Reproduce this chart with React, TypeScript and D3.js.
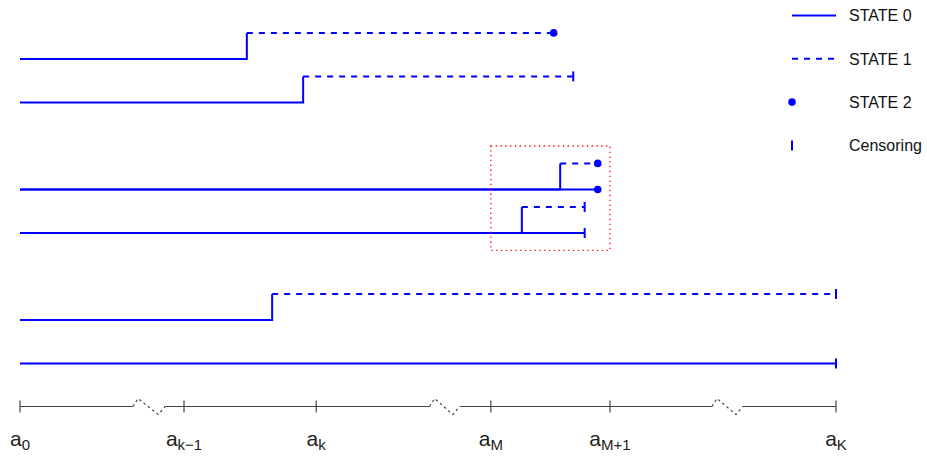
import React from "react";
import * as d3 from "d3";

// subjects (row position on the y scale, top to bottom)
const rows = [8, 7, 5, 4, 2, 1];
// time of 0 -> 1 transition (NaN = none)
const t01 = [27.8, 34.7, 66.2, 61.5, 30.9, NaN];
// end of follow-up
const tEnd = [65.4, 67.8, 70.8, 69.2, 100, 100];
// how follow-up ends: "death" = STATE 2, "censor"
const endMark = ["death", "censor", "death", "censor", "censor", "censor"];
// state 0 path also drawn to the end (alternative path)
const stay0 = [false, false, true, true, false, true];

// time axis
const tickVals = [0, 20.1, 36.3, 57.7, 72.3, 100];
const tickSubs = ["0", "k\u22121", "k", "M", "M+1", "K"];
const breaks = [
  [13.85, 17.8],
  [50.2, 53.9],
  [84.8, 88.6],
];
// zoom box (from a_M to a_M+1)
const boxRows = [3.6, 6];

const legendLabels = ["STATE 0", "STATE 1", "STATE 2", "Censoring"];

const W = 927;
const H = 456;
const blue = "#0000FF";
const grey = "#444";

export default function App() {
  const x = d3.scaleLinear().domain([0, 100]).range([20, 836]);
  const y = d3.scaleLinear().domain([1, 8]).range([363.5, 59]);
  const up = 0.6; // offset of state 1 level
  const axisY = 406.5;

  const line = d3.line<[number, number]>().x((d) => x(d[0])).y((d) => y(d[1]));

  const mark = (kind: string, cx: number, cy: number, key: string) =>
    kind === "death" ? (
      <circle key={key} cx={cx} cy={cy} r={3.8} fill={blue} />
    ) : (
      <line key={key} x1={cx} x2={cx} y1={cy - 5} y2={cy + 5} stroke={blue} strokeWidth={2} />
    );

  const segs: React.ReactNode[] = [];
  rows.forEach((r, i) => {
    const hasJump = !isNaN(t01[i]);
    if (!hasJump || stay0[i]) {
      segs.push(
        <path key={"s0" + i} d={line([[0, r], [tEnd[i], r]])!} stroke={blue} strokeWidth={2} fill="none" />
      );
      segs.push(mark(endMark[i], x(tEnd[i]), y(r), "m0" + i));
    }
    if (hasJump) {
      segs.push(
        <path
          key={"s01" + i}
          d={line([[0, r], [t01[i], r], [t01[i], r + up]])!}
          stroke={blue}
          strokeWidth={2}
          fill="none"
        />
      );
      segs.push(
        <path
          key={"s1" + i}
          d={line([[t01[i], r + up], [tEnd[i], r + up]])!}
          stroke={blue}
          strokeWidth={2}
          strokeDasharray="6,6"
          fill="none"
        />
      );
      segs.push(mark(endMark[i], x(tEnd[i]), y(r + up), "m1" + i));
    }
  });

  // axis pieces between breaks
  const edges = [0, ...breaks.flat(), 100];
  const axisPieces: [number, number][] = [];
  for (let k = 0; k < edges.length; k += 2) axisPieces.push([edges[k], edges[k + 1]]);

  const legendY = (k: number) => 15.5 + k * 43.3;

  return (
    <svg
      width={W}
      height={H}
      style={{ position: "absolute", left: 0, top: 0, background: "white" }}
      fontFamily="'Liberation Sans', Arial, sans-serif"
    >
      {segs}

      <rect
        x={x(tickVals[3])}
        y={y(boxRows[1])}
        width={x(tickVals[4]) - x(tickVals[3])}
        height={y(boxRows[0]) - y(boxRows[1])}
        fill="none"
        stroke="#FF0000"
        strokeWidth={1.3}
        strokeDasharray="1.3,3.5"
      />

      {/* time axis */}
      {axisPieces.map((p, k) => (
        <line key={"ax" + k} x1={x(p[0])} x2={x(p[1])} y1={axisY} y2={axisY} stroke={grey} strokeWidth={1.2} />
      ))}
      {breaks.map((b, k) => {
        const x0 = x(b[0]);
        const x1 = x(b[1]);
        return (
          <path
            key={"br" + k}
            d={`M${x0},${axisY}L${x0 + 5},${axisY - 8}L${x1 - 7},${axisY + 8}L${x1},${axisY}`}
            stroke={grey}
            strokeWidth={1.2}
            strokeDasharray="2.5,3"
            fill="none"
          />
        );
      })}
      {tickVals.map((t, k) => (
        <g key={"t" + k} transform={`translate(${x(t)},0)`}>
          <line y1={axisY - 6} y2={axisY + 6} stroke={grey} strokeWidth={1.2} />
          <text y={446} textAnchor="middle" fill="#222">
            <tspan fontSize={21}>a</tspan>
            <tspan fontSize={15} dy={4}>
              {tickSubs[k]}
            </tspan>
          </text>
        </g>
      ))}

      {/* legend */}
      <g>
        <line x1={792} x2={836} y1={legendY(0)} y2={legendY(0)} stroke={blue} strokeWidth={2} />
        <line
          x1={792}
          x2={836}
          y1={legendY(1)}
          y2={legendY(1)}
          stroke={blue}
          strokeWidth={2}
          strokeDasharray="6,6"
        />
        <circle cx={792} cy={legendY(2)} r={3.8} fill={blue} />
        <line x1={792} x2={792} y1={legendY(3) - 5} y2={legendY(3) + 5} stroke={blue} strokeWidth={2} />
        {legendLabels.map((l, k) => (
          <text key={l} x={849} y={legendY(k)} dy="0.36em" fontSize={16} fill="#111">
            {l}
          </text>
        ))}
      </g>
    </svg>
  );
}
